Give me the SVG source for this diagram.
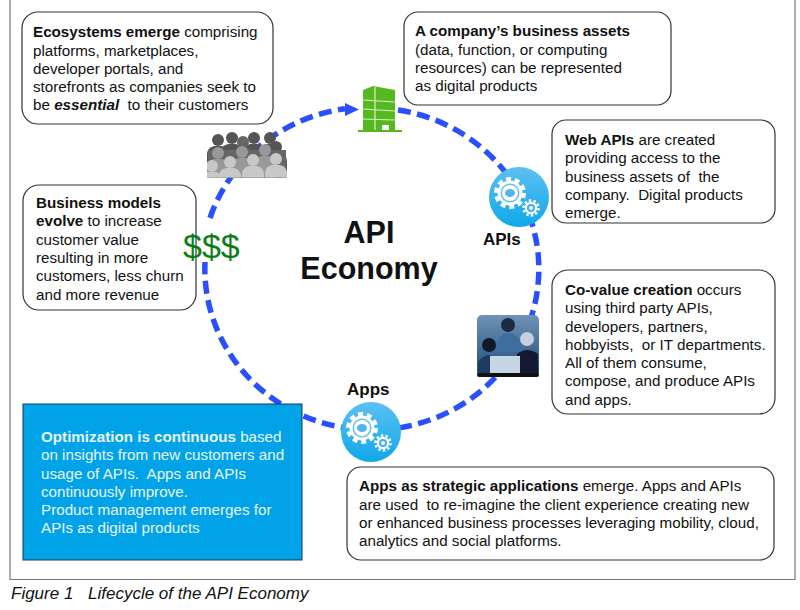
<svg xmlns="http://www.w3.org/2000/svg" width="800" height="610" viewBox="0 0 800 610">
<style>
text{font-family:"Liberation Sans",Arial,sans-serif;font-size:15.200px;fill:#111;white-space:pre}
.b{font-weight:bold}
.box{fill:#fff;stroke:#333;stroke-width:1.2}
.w{fill:#e8f6fd}
.lbl{font-size:17px;font-weight:bold}
.title{font-size:30.500px;font-weight:bold;text-anchor:middle}
</style>
<defs>
<linearGradient id="blue" x1="0" y1="0" x2="0" y2="1"><stop offset="0" stop-color="#5cc0f2"/><stop offset="1" stop-color="#0fa8ea"/></linearGradient>
<linearGradient id="photo" x1="0" y1="0" x2="0" y2="1"><stop offset="0" stop-color="#6f93b6"/><stop offset="1" stop-color="#1e4a7a"/></linearGradient>
<g id="gears">
<circle r="30" fill="url(#blue)"/>
<circle cx="-9" cy="-4" r="14" fill="none" stroke="#fff" stroke-width="4" stroke-dasharray="5 3.800"/>
<circle cx="-9" cy="-4" r="12.500" fill="#fff"/>
<circle cx="-9" cy="-4" r="9.500" fill="#62bff0"/>
<circle cx="-9" cy="-4" r="8" fill="#fff"/>
<ellipse cx="-9" cy="-4" rx="5" ry="4" fill="#4fb6ee"/>
<circle cx="12" cy="11" r="7.500" fill="none" stroke="#fff" stroke-width="2.500" stroke-dasharray="2.500 2.200"/>
<circle cx="12" cy="11" r="6.200" fill="#fff"/>
<circle cx="12" cy="11" r="4" fill="#3fb0ea"/>
<circle cx="12" cy="11" r="2" fill="#fff"/>
</g>
<g id="person"><circle cx="0" cy="0" r="6"/><path d="M-11 50V14Q-11 8-4 6H4Q11 8 11 14V50Z"/></g>
<clipPath id="crowdclip"><rect x="207" y="125" width="80" height="52.500"/></clipPath>
</defs>
<rect width="800" height="610" fill="#fff"/>
<path d="M10 0V579.500H795V0" fill="none" stroke="#777" stroke-width="1.200"/>
<g id="connectors" fill="none" stroke="#2a4fff" stroke-width="5.500" stroke-dasharray="13 6.500">
<path d="M210 218A167 161 0 0 1 345 108.700"/>
<path d="M398 110A167 161 0 1 1 205 262"/>
<path d="M359 109.500L345 103V116Z" fill="#2a4fff" stroke="none"/>
</g>
<g id="business-assets-icon">
<path d="M363 90L373 86L395 90V130H363Z" fill="#56b81f"/>
<path d="M363 100L395 102M363 109L395 111M363 119L395 120M375 87V130" stroke="#d8efc8" stroke-width="1.200" fill="none"/>
<rect x="382" y="125" width="7" height="5" fill="#fff"/>
<path d="M358 131H402" stroke="#56b81f" stroke-width="2"/>
</g>
<g id="crowd-icon" clip-path="url(#crowdclip)">
<g fill="#555"><use href="#person" x="218" y="140"/><use href="#person" x="232" y="138"/><use href="#person" x="254" y="138"/><use href="#person" x="270" y="138"/><use href="#person" x="276" y="147"/></g>
<g fill="#666"><use href="#person" x="243" y="142"/><rect x="208" y="150" width="78" height="28"/></g>
<g fill="#999"><use href="#person" x="218" y="153"/><use href="#person" x="242" y="152"/><use href="#person" x="265" y="150"/></g>
<g fill="#c8c8c8"><use href="#person" x="230" y="162"/><use href="#person" x="253" y="160"/><use href="#person" x="276" y="159"/><use href="#person" x="212" y="166"/></g>
</g>
<g id="apis-icon"><use href="#gears" x="519" y="197"/><text x="483" y="245" class="lbl">APIs</text></g>
<g id="apps-icon"><use href="#gears" x="371" y="432"/><text x="347" y="395" class="lbl">Apps</text></g>
<g id="team-photo">
<rect x="477" y="315" width="62" height="62" rx="5" fill="url(#photo)"/>
<circle cx="508" cy="325" r="7" fill="#1d2a44"/><path d="M495 352Q497 333 508 333Q520 333 524 352Z" fill="#3c6f9e"/>
<circle cx="489" cy="345" r="7" fill="#121a2a"/><path d="M478 376V362Q489 348 498 362L500 376Z" fill="#1d3a60"/>
<circle cx="527" cy="339" r="7" fill="#c6d0da"/><path d="M517 376V354Q527 346 538 354V376Z" fill="#141a33"/>
<rect x="490" y="356" width="30" height="18" fill="#c7d6e4"/>
<rect x="477" y="373" width="62" height="4" rx="2" fill="#111"/>
</g>
<g id="center-title"><text x="369" y="243" class="title">API</text><text x="369" y="279" class="title">Economy</text></g>
<g id="ecosystems"><rect class="box" x="22" y="12" width="251" height="112" rx="16"/>
<text x="33" y="37"><tspan class="b">Ecosystems emerge</tspan> comprising</text><text x="33" y="56">platforms, marketplaces,</text><text x="33" y="74">developer portals, and</text><text x="33" y="92">storefronts as companies seek to</text><text x="33" y="110">be <tspan class="b" font-style="italic">essential</tspan>  to their customers</text></g>
<g id="business-assets"><rect class="box" x="404" y="12" width="267" height="93" rx="14"/>
<text x="415" y="36"><tspan class="b">A company’s business assets</tspan></text><text x="415" y="55">(data, function, or computing</text><text x="415" y="73">resources) can be represented</text><text x="415" y="91">as digital products</text></g>
<g id="web-apis"><rect class="box" x="552" y="120" width="223" height="103" rx="14"/>
<text x="565" y="145"><tspan class="b">Web APIs</tspan> are created</text><text x="565" y="163">providing access to the</text><text x="565" y="182">business assets of  the</text><text x="565" y="200">company.  Digital products</text><text x="565" y="218">emerge.</text></g>
<g id="co-value"><rect class="box" x="552" y="270" width="223" height="144" rx="16"/>
<text x="565" y="295"><tspan class="b">Co-value creation</tspan> occurs</text><text x="565" y="313">using third party APIs,</text><text x="565" y="332">developers, partners,</text><text x="565" y="350">hobbyists,  or IT departments.</text><text x="565" y="368">All of them consume,</text><text x="565" y="386">compose, and produce APIs</text><text x="565" y="405">and apps.</text></g>
<g id="strategic-apps"><rect class="box" x="347" y="467" width="427" height="93" rx="14"/>
<text x="359" y="491"><tspan class="b">Apps as strategic applications</tspan> emerge. Apps and APIs</text><text x="359" y="510">are used  to re-imagine the client experience creating new</text><text x="359" y="528">or enhanced business processes leveraging mobility, cloud,</text><text x="359" y="546">analytics and social platforms.</text></g>
<g id="business-models"><rect class="box" x="23" y="185" width="173" height="125" rx="16"/>
<text x="36" y="208" class="b">Business models</text><text x="36" y="226"><tspan class="b">evolve</tspan> to increase</text><text x="36" y="245">customer value</text><text x="36" y="263">resulting in more</text><text x="36" y="281">customers, less churn</text><text x="36" y="300">and more revenue</text></g>
<g id="money-icon"><text x="183" y="258" style="font-size:34px;fill:#0a7d14">$$$</text></g>
<g id="optimization"><rect x="23" y="404" width="279" height="156" fill="#00a2e8" stroke="#14365a" stroke-width="1"/>
<text x="41" y="442" class="w"><tspan class="b w">Optimization is continuous</tspan> based</text><text x="41" y="460" class="w">on insights from new customers and</text><text x="41" y="479" class="w">usage of APIs.  Apps and APIs</text><text x="41" y="497" class="w">continuously improve.</text><text x="41" y="515" class="w">Product management emerges for</text><text x="41" y="533" class="w">APIs as digital products</text></g>
<g id="caption"><text x="11" y="599" style="font-size:17px;font-style:italic">Figure 1<tspan x="88">Lifecycle of the API Economy</tspan></text></g>
</svg>
